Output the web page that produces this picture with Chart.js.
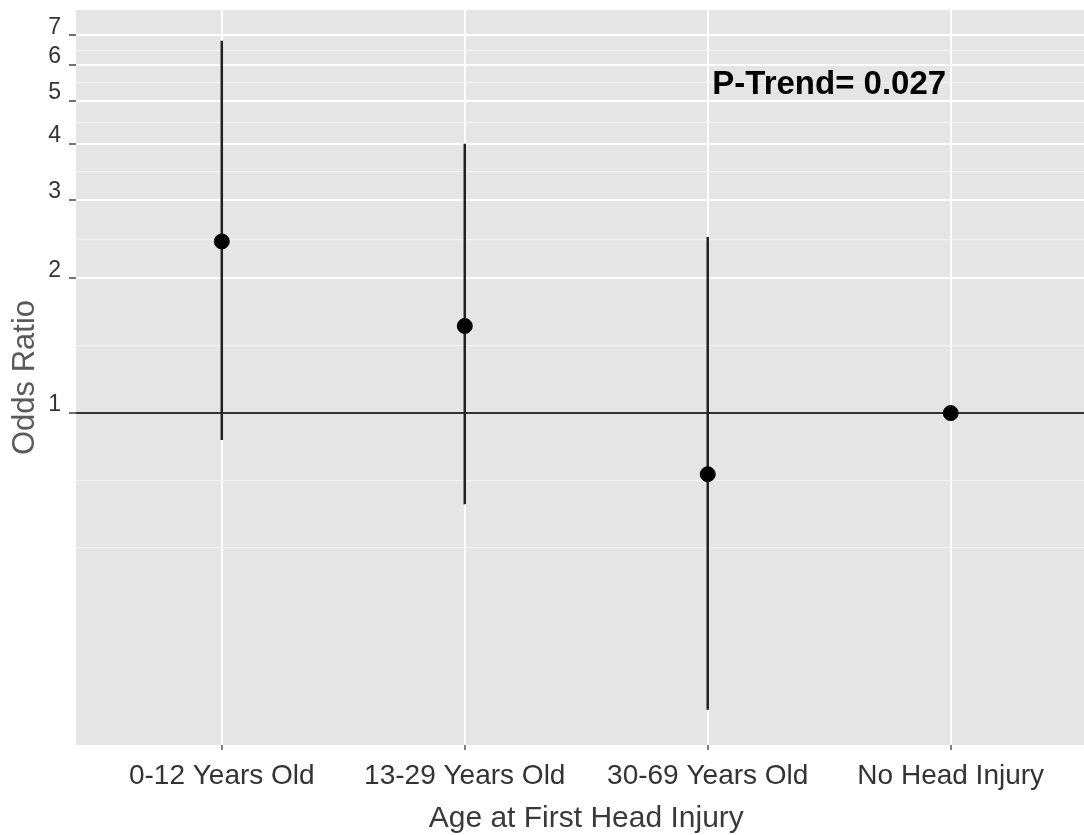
<!DOCTYPE html>
<html>
<head>
<meta charset="utf-8">
<script src="https://cdn.jsdelivr.net/npm/chart.js@4/dist/chart.umd.min.js"></script>
<style>
  html, body { margin: 0; padding: 0; background: #fff; overflow: hidden; }
  #wrap { width: 1105px; height: 837px; }
</style>
</head>
<body>
<div id="wrap"><canvas id="graphique"></canvas></div>
<script>
// data
const categories = ['0-12 Years Old', '13-29 Years Old', '30-69 Years Old', 'No Head Injury'];
const oddsRatio = [2.42, 1.566, 0.73, 1];
const ciLow = [0.87, 0.625, 0.217, null];
const ciHigh = [6.80, 4.00, 2.476, null];
const yMajorTicks = [1, 2, 3, 4, 5, 6, 7];
const yRange = [0.181, 7.97];
const pTrendText = 'P-Trend= 0.027';
const pTrendPos = [2.5, 5.42];

// ggplot style minor breaks: geometric midpoints, plus one step below 1
const yMinorTicks = [0.5, Math.sqrt(0.5)];
for (let i = 0; i < yMajorTicks.length - 1; i++) {
  yMinorTicks.push(Math.sqrt(yMajorTicks[i] * yMajorTicks[i + 1]));
}
const yAllTicks = yMajorTicks.concat(yMinorTicks)
  .filter(v => v >= yRange[0] && v <= yRange[1])
  .sort((a, b) => a - b);
const isMajor = v => yMajorTicks.includes(v);

const points = categories.map((c, i) => ({ x: i, y: oddsRatio[i] }));
const errorBars = [];
categories.forEach((c, i) => {
  if (ciLow[i] == null) return;
  errorBars.push({
    type: 'line',
    data: [{ x: i, y: ciLow[i] }, { x: i, y: ciHigh[i] }],
    borderColor: '#222',
    borderWidth: 2.5,
    pointRadius: 0,
    showLine: true,
    order: 2
  });
});

const panelBg = {
  id: 'panelBg',
  beforeDraw(chart) {
    const { ctx, chartArea: a } = chart;
    ctx.save();
    ctx.fillStyle = '#E5E5E5';
    ctx.fillRect(a.left, a.top, a.right - a.left, a.bottom - a.top);
    ctx.restore();
  }
};

const pTrend = {
  id: 'pTrend',
  afterDraw(chart) {
    const { ctx, scales } = chart;
    ctx.save();
    ctx.font = 'bold 33px "Liberation Sans", Arial, sans-serif';
    ctx.fillStyle = '#000';
    ctx.textAlign = 'center';
    ctx.textBaseline = 'middle';
    ctx.fillText(pTrendText, scales.x.getPixelForValue(pTrendPos[0]), scales.y.getPixelForValue(pTrendPos[1]));
    ctx.restore();
  }
};

const ctx = document.getElementById('graphique');
new Chart(ctx, {
  type: 'scatter',
  data: {
    datasets: [
      {
        data: points,
        backgroundColor: '#000',
        borderColor: '#000',
        pointRadius: 7.5,
        pointHoverRadius: 7.5,
        order: 0
      },
      ...errorBars,
      {
        type: 'line',
        data: [{ x: -0.6, y: 1 }, { x: 3.6, y: 1 }],
        borderColor: '#333',
        borderWidth: 2,
        pointRadius: 0,
        showLine: true,
        order: 3
      }
    ]
  },
  options: {
    responsive: true,
    maintainAspectRatio: false,
    animation: false,
    layout: { padding: { top: 10, left: 0, right: 0, bottom: 0 } },
    plugins: { legend: { display: false }, tooltip: { enabled: false } },
    scales: {
      x: {
        type: 'linear',
        min: -0.6,
        max: 3.6,
        afterBuildTicks: s => { s.ticks = categories.map((c, i) => ({ value: i })); },
        afterFit: s => { s.height = 92; s.paddingLeft = 0; s.paddingRight = 0; },
        border: { display: false },
        grid: { color: '#fff', lineWidth: 2, tickLength: 5, tickColor: '#555', tickWidth: 1.5 },
        ticks: {
          autoSkip: false,
          maxRotation: 0,
          padding: 9,
          color: '#333',
          font: { family: '"Liberation Sans", Arial, sans-serif', size: 28 },
          callback: v => categories[v]
        },
        title: {
          display: true,
          text: 'Age at First Head Injury',
          color: '#3a3a3a',
          padding: 0,
          font: { family: '"Liberation Sans", Arial, sans-serif', size: 30 }
        }
      },
      y: {
        type: 'logarithmic',
        min: yRange[0],
        max: yRange[1],
        afterBuildTicks: s => { s.ticks = yAllTicks.map(v => ({ value: v })); },
        afterFit: s => { s.width = 76; s.paddingTop = 0; s.paddingBottom = 0; },
        border: { display: false },
        grid: {
          color: c => isMajor(c.tick.value) ? '#fff' : '#F2F2F2',
          lineWidth: c => isMajor(c.tick.value) ? 2 : 1.2,
          tickLength: 7,
          tickColor: c => isMajor(c.tick.value) ? '#444' : 'rgba(0,0,0,0)',
          tickWidth: 1.5
        },
        ticks: {
          autoSkip: false,
          padding: 8,
          labelOffset: -8,
          color: '#333',
          font: { family: '"Liberation Sans", Arial, sans-serif', size: 23 },
          callback: v => isMajor(v) ? String(v) : ''
        },
        title: {
          display: true,
          text: 'Odds Ratio',
          color: '#5a5a5a',
          padding: { top: 7, bottom: 0 },
          font: { family: '"Liberation Sans", Arial, sans-serif', size: 31 }
        }
      }
    }
  },
  plugins: [panelBg, pTrend]
});
</script>
</body>
</html>
